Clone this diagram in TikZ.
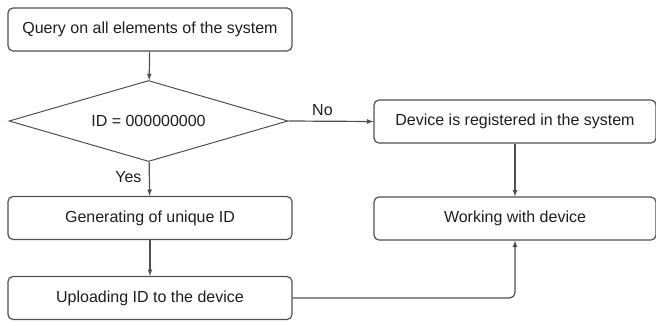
\documentclass[tikz,border=0pt]{standalone}
\usepackage{fontspec}
\setmainfont{Liberation Sans}
\usepackage{tikz}
\usetikzlibrary{shapes}
\definecolor{linegray}{RGB}{80,80,80}
\definecolor{textgray}{RGB}{30,30,30}
\tikzstyle{block}=[rectangle,draw=linegray,line width=1.2pt,rounded corners=5pt,fill=white,text=textgray,font=\fontsize{16}{18}\selectfont,minimum height=43pt,inner sep=0pt]
\tikzstyle{decision}=[diamond,draw=linegray,line width=1pt,fill=white,text=textgray,font=\fontsize{16}{18}\selectfont,shape aspect=3.44,minimum width=279pt,minimum height=81pt,inner sep=0pt]
\tikzstyle{flow}=[draw=linegray,line width=1.2pt,-latex]
\tikzstyle{lbl}=[text=textgray,font=\fontsize{16}{18}\selectfont]

\begin{document}
\begin{tikzpicture}[x=1pt,y=-1pt]
    \useasboundingbox (0,0) rectangle (656,322);
    \node[block,minimum width=284pt] (query) at (150,29.5)  {Query on all elements of the system};
    \node[decision] (id) at (148.5,121) {ID = 000000000};
    \node[block,minimum width=284pt] (gen) at (150,218)  {Generating of unique ID};
    \node[block,minimum width=284pt] (upl) at (150,298)  {Uploading ID to the device};
    \node[block,minimum width=282pt] (reg) at (515,121.5)  {Device is registered in the system};
    \node[block,minimum width=282pt] (work) at (515,218.5)  {Working with device};
%    arrows
    \draw[flow] (query) -- (id);
    \draw[flow] (id) -- (gen) node[lbl,pos=0.45,left=4pt] {Yes};
    \draw[flow] (id.east) -- (reg.west) node[lbl,pos=0.4,above=2pt] {No};
    \draw[flow] (gen) -- (upl);
    \draw[flow] (reg) -- (work);
    \coordinate (turn) at (work.south |- upl.east);
    \draw[flow,rounded corners=6pt] (upl.east) -- (turn) -- (work.south);
\end{tikzpicture}
\end{document}
